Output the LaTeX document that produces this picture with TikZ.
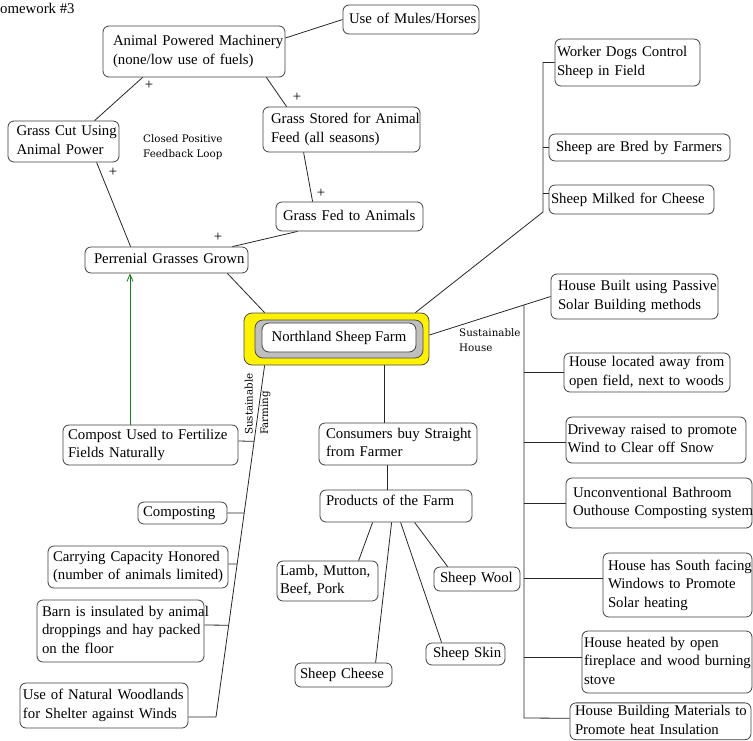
\documentclass[tikz,border=0pt]{standalone}
\usepackage{fontspec}
\setmainfont{Liberation Serif}
\newfontfamily\notefont{DejaVu Serif}
\usetikzlibrary{arrows.meta,calc}
% one- or multi-line box text, lines split with \\
\newcommand\tb[1]{\begin{tabular}{@{}l@{}}#1\end{tabular}}
\definecolor{loopgreen}{RGB}{20,130,20}

\begin{document}
\begin{tikzpicture}[x=1pt,y=-1pt,
  every node/.style={font=\fontsize{14.8}{18.4}\selectfont},
  box/.style={draw=black!75, line width=0.8pt, rounded corners=6pt, fill=white, inner sep=0pt, align=left},
  bx/.style n args={3}{box, minimum width=#1pt, minimum height=#2pt, text width=#3pt},
  link/.style={draw=black!85, line width=0.8pt},
  feed/.style={draw=loopgreen, line width=0.8pt, -{Straight Barb[length=7pt,width=6pt]}},
  note/.style={font=\notefont\fontsize{10.3}{15.5}\selectfont, align=left, inner sep=0pt},
  sign/.style={inner sep=0pt},
]
\useasboundingbox (0,0) rectangle (753,740);

% title, partly beyond the left edge
\node[anchor=base west, inner sep=0pt] (title) at (-10.7,13) {Homework \#3};

% ---- central node ----
\node[draw=black!70, line width=0.8pt, fill=yellow, rounded corners=8pt, minimum width=185pt, minimum height=52pt, inner sep=0pt] (farm) at (336.5,339) {};
\node[draw=black!70, line width=0.8pt, fill=black!25, rounded corners=8pt, minimum width=168pt, minimum height=38pt, inner sep=0pt] (farmring) at (339,339) {};
\node[box, minimum width=154pt, minimum height=29pt, rounded corners=7pt] (farmname) at (339,337.5) {Northland Sheep Farm};

% ---- feedback loop ----
\node[bx={182}{51}{162}] (apm) at (194,51.5) {\tb{Animal Powered Machinery\\(none/low use of fuels)}};
\node[bx={136}{29}{124}] (mules) at (411,19.5) {\tb{Use of Mules/Horses}};
\node[bx={111}{41}{94}] (cut) at (63.5,141.5) {\tb{Grass Cut Using\\Animal Power}};
\node[bx={157}{45}{141}] (stored) at (341.5,129.5) {\tb{Grass Stored for Animal\\Feed (all seasons)}};
\node[bx={147}{29}{133}] (fed) at (349.5,216.5) {\tb{Grass Fed to Animals}};
\node[bx={163}{26}{145}] (perr) at (166.5,260) {\tb{Perrenial Grasses Grown}};

% ---- sheep ----
\node[bx={145}{47}{141}] (dogs) at (627.5,62.5) {\tb{Worker Dogs Control\\Sheep in Field}};
\node[bx={181}{27}{167}] (bred) at (639.5,147.5) {\tb{Sheep are Bred by Farmers}};
\node[bx={165}{29}{161}] (milked) at (631.5,199.5) {\tb{Sheep Milked for Cheese}};

% ---- sustainable house ----
\node[bx={167}{45}{153}] (built) at (634.5,296.5) {\tb{House Built using Passive\\Solar Building methods}};
\node[bx={166}{39}{156}] (loc) at (647,372.5) {\tb{House located away from\\open field, next to woods}};
\node[bx={180}{46}{177}] (drive) at (656,440) {\tb{Driveway raised to promote\\Wind to Clear off Snow}};
\node[bx={186}{50}{172}] (uncon) at (659,503) {\tb{Unconventional Bathroom\\Outhouse Composting system}};
\node[bx={149}{64}{139}] (south) at (677.5,585) {\tb{House has South facing\\Windows to Promote\\Solar heating}};
\node[bx={170}{62}{166}] (heat) at (667,662) {\tb{House heated by open\\fireplace and wood burning\\stove}};
\node[bx={181}{36.5}{171}] (mat) at (660.5,721.25) {\tb{House Building Materials to\\Promote heat Insulation}};

% ---- products ----
\node[bx={158}{42}{144}] (cons) at (398,444) {\tb{Consumers buy Straight\\from Farmer}};
\node[bx={152}{32}{140}, text height=15pt, text depth=17pt] (prod) at (396,506) {Products of the Farm};
\node[bx={101}{40}{95}] (lamb) at (327.5,581) {\tb{Lamb, Mutton,\\Beef, Pork}};
\node[bx={86}{24}{74}] (wool) at (477,579) {\tb{Sheep Wool}};
\node[bx={79}{22}{65}] (skin) at (465.5,654) {\tb{Sheep Skin}};
\node[bx={97}{24}{87}] (cheese) at (343.5,675) {\tb{Sheep Cheese}};

% ---- sustainable farming ----
\node[bx={175}{40}{165}] (compost) at (150.5,445) {\tb{Compost Used to Fertilize\\Fields Naturally}};
\node[bx={89}{22}{79}] (composting) at (182.5,513) {\tb{Composting}};
\node[bx={180}{42}{170}] (carry) at (138,567) {\tb{Carrying Capacity Honored\\(number of animals limited)}};
\node[bx={167}{62}{157}] (barn) at (120.5,631) {\tb{Barn is insulated by animal\\droppings and hay packed\\on the floor}};
\node[bx={168}{45}{162}] (wood) at (104,705.5) {\tb{Use of Natural Woodlands\\for Shelter against Winds}};

% ---- notes and signs ----
\node[note, anchor=west] (loopnote) at (143,147) {Closed Positive\\Feedback Loop};
\node[note, anchor=west] (housenote) at (459,340) {Sustainable\\House};
\node[note, anchor=west, rotate=90] (farmnote) at (257.5,435) {Sustainable\\Farming};
\node[sign] (s1) at (149,85) {+};
\node[sign] (s2) at (297,97) {+};
\node[sign] (s3) at (321,193) {+};
\node[sign] (s4) at (113,172) {+};
\node[sign] (s5) at (218,237) {+};

% ---- loop connectors ----
\draw[link] ([yshift=13.5pt]apm.east) -- (mules.west);
\draw[link] ([xshift=40pt]apm.south west) -- ([xshift=87pt]cut.north west);
\draw[link] ([xshift=-19pt]apm.south east) -- ([xshift=24pt]stored.north west);
\draw[link] ([xshift=41pt]stored.south west) -- ([xshift=37pt]fed.north west);
\draw[link] ([xshift=89pt]cut.south west) -- ([xshift=46pt]perr.north west);
\draw[link] ([xshift=22pt]fed.south west) -- ([xshift=-16pt]perr.north east);
\draw[link] ([xshift=-21pt]perr.south east) -- ([xshift=21pt]farm.north west);
\coordinate (greenfoot) at ([xshift=-20.5pt]compost.north);
\draw[feed] (greenfoot) -- (greenfoot |- perr.south);

% ---- sheep branch ----
\coordinate (sheepbus) at (543,212);
\draw[link] ([xshift=-14pt]farm.north east) -- (sheepbus) |- (dogs.west);
\draw[link] (bred.west) -- (bred.west -| sheepbus);
\draw[link] ([yshift=6pt]milked.west) -- ([yshift=6pt]milked.west -| sheepbus);

% ---- house branch ----
\draw[link] ([yshift=4pt]farm.east) -- (built.west);
\coordinate (housebus) at (524,305);
\coordinate (houseend) at (524,718);
\draw[link] (housebus) -- (houseend) -- ([yshift=3pt]mat.west);
\draw[link] (loc.west) -- (loc.west -| housebus);
\draw[link] ([yshift=-2pt]drive.west) -- ([yshift=-2pt]drive.west -| housebus);
\draw[link] (uncon.west) -- (uncon.west -| housebus);
\draw[link] ([yshift=7pt]south.west) -- ([yshift=7pt]south.west -| housebus);
\draw[link] ([yshift=5pt]heat.west) -- ([yshift=5pt]heat.west -| housebus);

% ---- products branch ----
\coordinate (constop) at ([xshift=-14pt]cons.north);
\draw[link] (constop |- farm.south) -- (constop);
\coordinate (prodtop) at ([xshift=-9pt]prod.north);
\draw[link] (prodtop |- cons.south) -- (prodtop);
\draw[link] ([xshift=53pt]prod.south west) -- ([xshift=82pt]lamb.north west);
\draw[link] ([xshift=72pt]prod.south west) -- ([xshift=81pt]cheese.north west);
\draw[link] ([xshift=81pt]prod.south west) -- ([xshift=16pt]skin.north west);
\draw[link] ([xshift=95pt]prod.south west) -- ([xshift=14pt]wool.north west);

% ---- farming branch ----
\coordinate (farmbustop) at ([xshift=21pt]farm.south west);
\coordinate (farmbusend) at (216,717);
\draw[link] (farmbustop) -- (farmbusend) -- ([yshift=-11.5pt]wood.east);
\draw[link] ([yshift=4pt]compost.east) -- ($(farmbustop)!0.216!(farmbusend)$);
\draw[link] (composting.east) -- ($(farmbustop)!0.420!(farmbusend)$);
\draw[link] ([yshift=3pt]carry.east) -- ($(farmbustop)!0.565!(farmbusend)$);
\draw[link] ([yshift=6pt]barn.east) -- ($(farmbustop)!0.739!(farmbusend)$);
\end{tikzpicture}
\end{document}
